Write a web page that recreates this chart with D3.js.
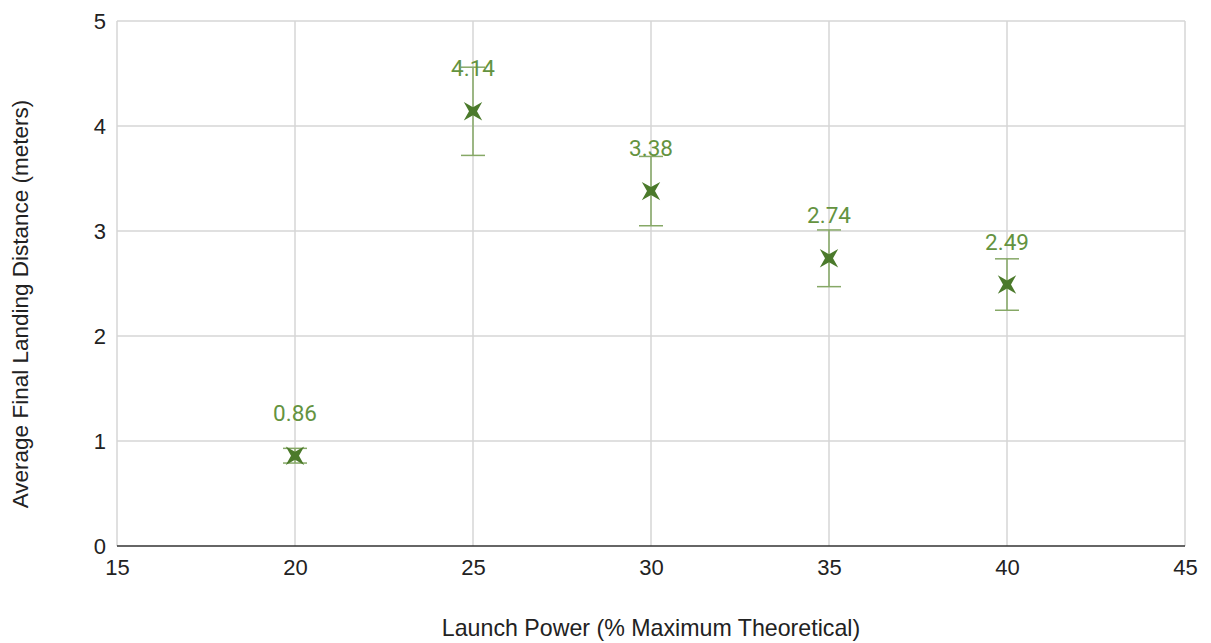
<!DOCTYPE html>
<html><head><meta charset="utf-8">
<script src="https://cdn.jsdelivr.net/npm/d3@7"></script>
<style>body{margin:0;background:#fff}svg{display:block}</style>
</head><body><svg id="c" width="1211" height="643"></svg>
<script>
const launchPower = [20, 25, 30, 35, 40];
const avgDistance = [0.86, 4.14, 3.38, 2.74, 2.49];
const errorAmount = [0.07, 0.42, 0.33, 0.27, 0.245];
const xTicks = [15, 20, 25, 30, 35, 40, 45];
const yTicks = [0, 1, 2, 3, 4, 5];
const xTitle = "Launch Power (% Maximum Theoretical)";
const yTitle = "Average Final Landing Distance (meters)";

const svg = d3.select("#c");
const M = {l:117, r:1185, t:21, b:546};
const x = d3.scaleLinear().domain([15,45]).range([M.l, M.r]);
const y = d3.scaleLinear().domain([0,5]).range([M.b, M.t]);
const FONT = "Liberation Sans, Arial, sans-serif";

// grid
svg.append("g").selectAll("line").data(xTicks).join("line")
  .attr("x1", d=>x(d)).attr("x2", d=>x(d)).attr("y1", M.t).attr("y2", M.b)
  .attr("stroke", "#d6d6d6").attr("stroke-width", 1.5);
svg.append("g").selectAll("line").data(yTicks.filter(d=>d>0)).join("line")
  .attr("x1", M.l).attr("x2", M.r).attr("y1", d=>y(d)).attr("y2", d=>y(d))
  .attr("stroke", "#d6d6d6").attr("stroke-width", 1.5);
// baseline
svg.append("line").attr("x1", M.l).attr("x2", M.r).attr("y1", y(0)).attr("y2", y(0))
  .attr("stroke", "#333").attr("stroke-width", 1.5);

// axes tick labels
const xAxis = d3.axisBottom(x).tickValues(xTicks).tickFormat(d3.format("d")).tickSize(0).tickPadding(13);
const gx = svg.append("g").attr("transform", `translate(0,${y(0)})`).call(xAxis);
gx.select(".domain").remove();
gx.selectAll("text").attr("font-family", FONT).attr("font-size", 22).attr("fill", "#222");
const yAxis = d3.axisLeft(y).tickValues(yTicks).tickFormat(d3.format("d")).tickSize(0).tickPadding(11);
const gy = svg.append("g").attr("transform", `translate(${M.l},0)`).call(yAxis);
gy.select(".domain").remove();
gy.selectAll("text").attr("font-family", FONT).attr("font-size", 22).attr("fill", "#222");

// titles
svg.append("text").attr("x", 651).attr("y", 636).attr("text-anchor", "middle")
  .attr("font-family", FONT).attr("font-size", 23.2).attr("fill", "#222").text(xTitle);
svg.append("text").attr("transform", `translate(28,304) rotate(-90)`).attr("text-anchor", "middle")
  .attr("font-family", FONT).attr("font-size", 22.5).attr("fill", "#222").text(yTitle);

const data = launchPower.map((p,i)=>({p, v:avgDistance[i], e:errorAmount[i]}));

// error bars
const eb = svg.append("g").attr("stroke", "#86a866").attr("stroke-width", 1.5);
data.forEach(d=>{
  const cx = x(d.p), y1 = y(d.v + d.e), y2 = y(d.v - d.e);
  eb.append("line").attr("x1", cx).attr("x2", cx).attr("y1", y1).attr("y2", y2);
  eb.append("line").attr("x1", cx-12).attr("x2", cx+12).attr("y1", y1).attr("y2", y1);
  eb.append("line").attr("x1", cx-12).attr("x2", cx+12).attr("y1", y2).attr("y2", y2);
});

// 4-pointed star marker (X orientation)
function starPath(R, r){
  const p = d3.path();
  for(let k=0;k<8;k++){
    const a = Math.PI/4 + k*Math.PI/4;
    const rad = k%2===0 ? R : r;
    const px = rad*Math.cos(a), py = rad*Math.sin(a);
    k===0 ? p.moveTo(px,py) : p.lineTo(px,py);
  }
  p.closePath();
  return p.toString();
}
svg.append("g").selectAll("path").data(data).join("path")
  .attr("d", starPath(13, 4))
  .attr("transform", d=>`translate(${x(d.p)},${y(d.v)})`)
  .attr("fill", "#4b7a2b");

// value labels
svg.append("g").selectAll("text").data(data).join("text")
  .attr("x", d=>x(d.p)).attr("y", d=>y(d.v)-35)
  .attr("text-anchor", "middle")
  .attr("font-family", "Roboto, sans-serif").attr("font-size", 22.5)
  .attr("fill", "#64933f")
  .text(d=>d.v.toFixed(2));
</script></body></html>
